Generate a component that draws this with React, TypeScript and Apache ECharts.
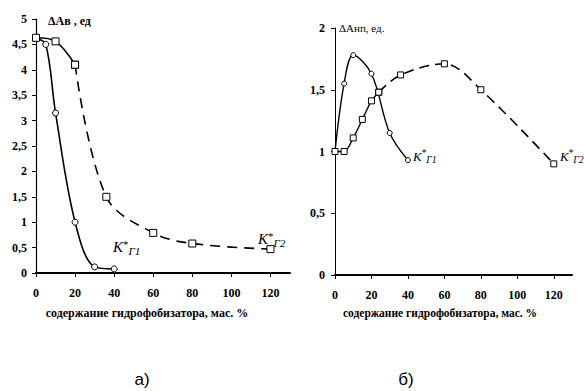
import React, { useEffect, useRef } from "react";
import * as echarts from "echarts";

// Panel а): ΔАв vs content
const xLeftG1 = [0, 5, 10, 20, 30, 40];
const yLeftG1 = [4.62, 4.5, 3.15, 1.0, 0.12, 0.08];
const xLeftG2 = [0, 10, 20, 36, 60, 80, 120];
const yLeftG2 = [4.63, 4.56, 4.1, 1.5, 0.79, 0.58, 0.47];
const leftSplit = 2; // index where dashed part begins

// Panel б): ΔАнп vs content
const xRightG1 = [0, 5, 10, 20, 30, 40];
const yRightG1 = [1.0, 1.55, 1.78, 1.63, 1.15, 0.93];
const xRightG2 = [0, 5, 10, 15, 20, 24, 36, 60, 80, 120];
const yRightG2 = [1.0, 1.0, 1.11, 1.26, 1.41, 1.48, 1.62, 1.71, 1.5, 0.9];
const rightSplit = 5;

const xTicks = [0, 20, 40, 60, 80, 100, 120];
const leftYTicks = ["0", "0,5", "1", "1,5", "2", "2,5", "3", "3,5", "4", "4,5", "5"];
const rightYTicks = ["0", "0,5", "1", "1,5", "2"];

const xTitle = "содержание гидрофобизатора, мас. %";
const leftYTitle = "ΔАв , ед";
const rightYTitle = "ΔАнп, ед.";

const zip = (xs: number[], ys: number[]) => xs.map((x, i) => [x, ys[i]]);

const SERIF = "Liberation Serif";
const SANS = "Liberation Sans";

function txt(
  x: number,
  y: number,
  text: string,
  fontSize: number,
  opts: { weight?: string; italic?: boolean; align?: string; family?: string } = {}
) {
  return {
    type: "text",
    x,
    y,
    style: {
      text,
      fontSize,
      fontFamily: opts.family ?? SERIF,
      fontWeight: opts.weight ?? "normal",
      fontStyle: opts.italic ? "italic" : "normal",
      fill: "#000",
      align: opts.align ?? "left",
      verticalAlign: "middle",
    },
  };
}

function kLabel(x: number, y: number, sub: string, size: number) {
  const lh = Math.round(size * 1.2);
  return {
    type: "text",
    x,
    y,
    style: {
      text: `{k|K}{s|*}{g|${sub}}`,
      fill: "#000",
      align: "left",
      verticalAlign: "middle",
      rich: {
        k: { fontFamily: SERIF, fontStyle: "italic", fontSize: size, lineHeight: lh, verticalAlign: "middle" },
        s: { fontFamily: SERIF, fontSize: size * 0.72, lineHeight: lh, verticalAlign: "top" },
        g: { fontFamily: SERIF, fontStyle: "italic", fontSize: size * 0.75, lineHeight: lh, verticalAlign: "bottom" },
      },
    },
  };
}

export default function App() {
  const ref = useRef<HTMLDivElement>(null);
  useEffect(() => {
    if (!ref.current) return;
    const chart = echarts.init(ref.current, undefined, { renderer: "svg" });
    const lineBase = { color: "#000", width: 1.6 };
    const markStyle = { color: "#fff", borderColor: "#000", borderWidth: 1 };
    const xAxisCommon = (gridIndex: number, size: number) => ({
      type: "value",
      gridIndex,
      min: 0,
      max: 130,
      interval: 20,
      splitLine: { show: false },
      axisLine: { show: true, lineStyle: { color: "#000", width: 2 } },
      axisTick: { show: true, length: 4, lineStyle: { color: "#000" } },
      axisLabel: {
        margin: 14,
        showMaxLabel: false,
        color: "#000",
        fontFamily: SERIF,
        fontWeight: "bold",
        fontSize: size,
        formatter: (v: number) => (xTicks.includes(v) ? String(v) : ""),
      },
    });
    chart.setOption({
      animation: false,
      backgroundColor: "#fff",
      textStyle: { fontFamily: SERIF },
      grid: [
        { left: 36, top: 19, width: 254, height: 254 },
        { left: 335, top: 28, width: 237, height: 247 },
      ],
      xAxis: [xAxisCommon(0, 12), xAxisCommon(1, 12)],
      yAxis: [
        {
          type: "value",
          gridIndex: 0,
          min: 0,
          max: 5,
          interval: 0.5,
          splitLine: { show: false },
          axisLine: { show: true, lineStyle: { color: "#000", width: 1.2 } },
          axisTick: { show: true, length: 4, lineStyle: { color: "#000" } },
          axisLabel: {
            margin: 9,
            color: "#000",
            fontFamily: SERIF,
            fontWeight: "bold",
            fontSize: 12,
            formatter: (v: number) => leftYTicks[Math.round(v * 2)] ?? "",
          },
        },
        {
          type: "value",
          gridIndex: 1,
          min: 0,
          max: 2,
          interval: 0.5,
          splitLine: { show: false },
          axisLine: { show: true, lineStyle: { color: "#000", width: 1 } },
          axisTick: { show: true, length: 4, lineStyle: { color: "#000" } },
          axisLabel: {
            margin: 10,
            color: "#000",
            fontFamily: SERIF,
            fontWeight: "bold",
            fontSize: 12,
            formatter: (v: number) => rightYTicks[Math.round(v * 2)] ?? "",
          },
        },
      ],
      series: [
        {
          type: "line",
          xAxisIndex: 0,
          yAxisIndex: 0,
          data: zip(xLeftG1, yLeftG1),
          smooth: 0.35,
          symbol: "circle",
          symbolSize: 6,
          lineStyle: { ...lineBase },
          itemStyle: markStyle,
        },
        {
          type: "line",
          xAxisIndex: 0,
          yAxisIndex: 0,
          data: zip(xLeftG2, yLeftG2).slice(0, leftSplit + 1),
          smooth: 0.35,
          symbol: "rect",
          symbolSize: 7,
          lineStyle: { ...lineBase },
          itemStyle: markStyle,
        },
        {
          type: "line",
          xAxisIndex: 0,
          yAxisIndex: 0,
          data: zip(xLeftG2, yLeftG2).slice(leftSplit),
          smooth: 0.35,
          symbol: "rect",
          symbolSize: 7,
          lineStyle: { ...lineBase, type: [10, 7] },
          itemStyle: markStyle,
        },
        {
          type: "line",
          xAxisIndex: 1,
          yAxisIndex: 1,
          data: zip(xRightG1, yRightG1),
          smooth: 0.35,
          symbol: "circle",
          symbolSize: 5,
          lineStyle: { ...lineBase, width: 1.4 },
          itemStyle: markStyle,
        },
        {
          type: "line",
          xAxisIndex: 1,
          yAxisIndex: 1,
          data: zip(xRightG2, yRightG2).slice(0, rightSplit + 1),
          smooth: 0.3,
          symbol: "rect",
          symbolSize: 6,
          lineStyle: { ...lineBase, width: 1.4 },
          itemStyle: markStyle,
        },
        {
          type: "line",
          xAxisIndex: 1,
          yAxisIndex: 1,
          data: zip(xRightG2, yRightG2).slice(rightSplit),
          smooth: 0.35,
          symbol: "rect",
          symbolSize: 6,
          lineStyle: { ...lineBase, width: 1.6, type: [10, 6] },
          itemStyle: markStyle,
        },
      ],
      graphic: [
        txt(48, 21, leftYTitle, 12, { weight: "bold" }),
        txt(339, 28, rightYTitle, 11),
        txt(147, 313, xTitle, 12, { weight: "bold", align: "center" }),
        txt(440, 313, xTitle, 11.5, { weight: "bold", align: "center" }),
        txt(142, 379, "а)", 17, { align: "center", family: SANS }),
        txt(406, 379, "б)", 17, { align: "center", family: SANS }),
        kLabel(113, 247, "Г1", 15),
        kLabel(258, 239, "Г2", 15),
        kLabel(413, 156, "Г1", 13),
        kLabel(560, 156, "Г2", 13),
      ],
    });
    return () => chart.dispose();
  }, []);
  return (
    <div
      ref={ref}
      style={{ position: "fixed", left: 0, top: 0, width: 584, height: 391, background: "#fff" }}
    />
  );
}
